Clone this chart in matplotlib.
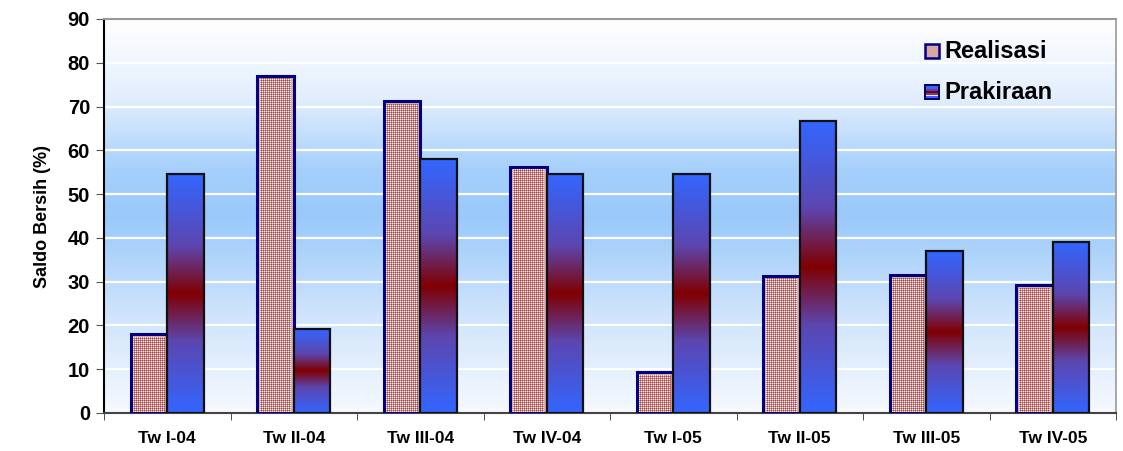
import numpy as np
import matplotlib
matplotlib.use("Agg")
import matplotlib.pyplot as plt
from matplotlib.colors import LinearSegmentedColormap, ListedColormap
from matplotlib.patches import Rectangle
from matplotlib.legend_handler import HandlerBase

categories = ["Tw I-04", "Tw II-04", "Tw III-04", "Tw IV-04",
              "Tw I-05", "Tw II-05", "Tw III-05", "Tw IV-05"]
realisasi = [18.0, 77.0, 71.2, 56.2, 9.3, 31.3, 31.5, 29.2]
prakiraan = [54.5, 19.3, 58.0, 54.5, 54.5, 66.8, 37.0, 39.0]
yticks = list(range(0, 91, 10))

plt.rcParams["font.family"] = ["Liberation Sans", "DejaVu Sans"]
plt.rcParams["font.weight"] = "bold"

W, H = 1123, 451
fig = plt.figure(figsize=(W / 100, H / 100), dpi=100)
ax = fig.add_axes([104 / W, 38 / H, (1116 - 104) / W, (413 - 19) / H])

# plot-area background: white at top, sky blue in the middle, pale at bottom
bg_cmap = LinearSegmentedColormap.from_list(
    "bg", [(0.0, "#f6f9fe"), (0.25, "#cfe4fc"), (0.5, "#99c9fa"),
           (0.62, "#a6d0fb"), (0.8, "#e2eefd"), (1.0, "#ffffff")])
grad = np.linspace(0, 1, 256).reshape(-1, 1)
ax.imshow(grad, cmap=bg_cmap, aspect="auto", extent=[0, 1, 0, 1],
          origin="lower", transform=ax.transAxes, zorder=0)

ax.set_xlim(-0.5, len(categories) - 0.5)
ax.set_ylim(0, 90)
ax.set_yticks(yticks)
for v in yticks[1:-1]:
    ax.axhline(v, color="white", lw=1.6, zorder=1)

bar_cmap = LinearSegmentedColormap.from_list(
    "bar", [(0.0, "#3366ff"), (0.3, "#5c46b0"), (0.5, "#800000"),
            (0.7, "#5c46b0"), (1.0, "#3366ff")])
check_cmap = ListedColormap(["#fcf6f6", "#d08888", "#a84444"])

x = np.arange(len(categories))
w = 0.29

# Realisasi: navy outline, filled below with a pixel-aligned red gingham
rl_bars = ax.bar(x - w / 2, realisasi, w, facecolor="#dcb0b0",
                 edgecolor="#000080", linewidth=2.2, zorder=3)

# Prakiraan: vertical blue-red-blue gradient with black outline
pk_bars = ax.bar(x + w / 2, prakiraan, w, facecolor="none",
                 edgecolor="#111111", linewidth=1.6, zorder=4)
for b in pk_bars:
    x0, h = b.get_x(), b.get_height()
    ax.imshow(grad, cmap=bar_cmap, aspect="auto", origin="lower",
              extent=[x0, x0 + b.get_width(), 0, h], zorder=3,
              interpolation="bicubic")
ax.set_xlim(-0.5, len(categories) - 0.5)
ax.set_ylim(0, 90)

# category labels centred, tick marks at category boundaries
ax.set_xticks(x, categories, fontsize=12.5, fontweight="bold")
ax.tick_params(axis="x", length=0, pad=13)
ax.set_xticks(np.arange(-0.5, len(categories)), minor=True)
ax.tick_params(axis="x", which="minor", length=5, color="#333333", direction="out")
ax.tick_params(axis="y", length=6, color="#555555", labelsize=14.5, pad=4)
for lab in ax.get_yticklabels():
    lab.set_fontweight("bold")
ax.set_ylabel("Saldo Bersih (%)", fontsize=13, fontweight="bold", labelpad=12)

ax.spines["left"].set_color("#000000")
ax.spines["left"].set_linewidth(1.5)
ax.spines["bottom"].set_color("#444444")
ax.spines["bottom"].set_linewidth(1.5)
ax.spines["top"].set_color("#999999")
ax.spines["top"].set_linewidth(1.5)
ax.spines["right"].set_color("#999999")
ax.spines["right"].set_linewidth(1.2)


class GradientHandler(HandlerBase):
    def create_artists(self, legend, orig_handle, xdescent, ydescent,
                       width, height, fontsize, trans):
        side = height * 0.85
        x0 = xdescent + width - side
        y0 = -ydescent + (height - side) / 2 - 1
        stripes = [("#3366ff", 0.0), ("#6a3c9a", 0.3), ("#800000", 0.45),
                   ("#6a3c9a", 0.6), ("#3366ff", 0.75)]
        arts = []
        for col, f in stripes:
            arts.append(Rectangle((x0, y0 + f * side), side, side * 0.25,
                                  facecolor=col, edgecolor="none", transform=trans))
        arts.append(Rectangle((x0, y0), side, side, facecolor="none",
                              edgecolor="#000060", lw=1.4, transform=trans))
        return arts


class CheckHandler(HandlerBase):
    def create_artists(self, legend, orig_handle, xdescent, ydescent,
                       width, height, fontsize, trans):
        side = height * 0.85
        x0 = xdescent + width - side
        y0 = -ydescent + (height - side) / 2 - 1
        return [Rectangle((x0, y0), side, side, facecolor="#d8a4a4",
                          edgecolor="#000080", lw=1.8, transform=trans)]


h1 = Rectangle((0, 0), 1, 1)
h2 = Rectangle((0, 0), 1, 1)
leg = ax.legend([h1, h2], ["Realisasi", "Prakiraan"],
                handler_map={h1: CheckHandler(), h2: GradientHandler()},
                loc="upper right", bbox_to_anchor=(0.958, 1.0), frameon=False,
                prop={"size": 17, "weight": "bold"}, handlelength=0.8,
                handletextpad=0.2, labelspacing=0.75)
leg.set_zorder(6)

# gingham texture placed at whole-pixel offsets inside each Realisasi bar
fig.canvas.draw()
inset = 2
for b in rl_bars:
    bb = b.get_window_extent()
    x0p = int(np.ceil(bb.x0)) + inset
    x1p = int(np.floor(bb.x1)) - inset
    y0p = int(np.ceil(bb.y0)) + 1
    y1p = int(np.floor(bb.y1)) - inset
    nr, nc = max(1, y1p - y0p), max(1, x1p - x0p)
    pat = (np.arange(nr) % 2).reshape(-1, 1) + (np.arange(nc) % 2).reshape(1, -1)
    fig.figimage(pat, xo=x0p, yo=y0p, cmap=check_cmap, vmin=0, vmax=2,
                 origin="lower", zorder=1)

fig.savefig("out.png", dpi=100)
